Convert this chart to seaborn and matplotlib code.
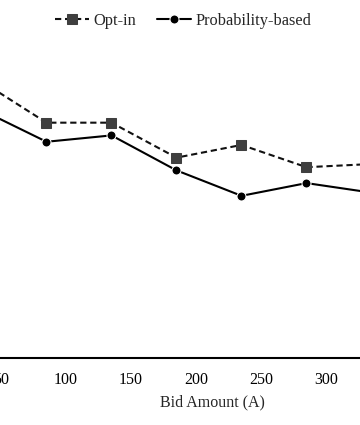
import matplotlib
matplotlib.use("Agg")
import matplotlib.pyplot as plt
import seaborn as sns
import pandas as pd

bid_amounts = [35, 85, 135, 185, 235, 285, 335]
opt_in = [0.87, 0.74, 0.74, 0.63, 0.67, 0.60, 0.61]
probability_based = [0.78, 0.68, 0.70, 0.59, 0.51, 0.55, 0.52]
series_names = ["Opt-in", "Probability-based"]
x_ticks = [50, 100, 150, 200, 250, 300]

df = pd.DataFrame({
	"bid": bid_amounts * 2,
	"value": opt_in + probability_based,
	"sample": [series_names[0]] * len(bid_amounts) + [series_names[1]] * len(bid_amounts),
})

sns.set_style("white")
plt.rcParams["font.family"] = ["Liberation Serif", "DejaVu Serif"]

fig = plt.figure(figsize=(3.6, 4.25), dpi=100)
# axes deliberately wider than the figure: the reference is a crop of a larger chart
ax = fig.add_axes([-64 / 360, 67 / 425, 552.5 / 360, 318 / 425])

sns.lineplot(data=df, x="bid", y="value", hue="sample", style="sample",
			 palette={"Opt-in": "#111111", "Probability-based": "black"},
			 markers={"Opt-in": "s", "Probability-based": "o"},
			 dashes={"Opt-in": (3, 1.8), "Probability-based": ""},
			 markersize=6.5, linewidth=1.5, ax=ax)

# darker gray squares
for line in ax.lines:
	if line.get_marker() == "s":
		line.set_markerfacecolor("#3f3f3f")
		line.set_markeredgecolor("#3f3f3f")

ax.set_xlim(0, 425)
ax.set_ylim(0, 1)
ax.set_xticks(x_ticks)
ax.set_yticks([])
ax.tick_params(axis="x", length=0, labelsize=11.5, pad=10, colors="black")
ax.set_xlabel("Bid Amount (A)", fontsize=11.5, labelpad=5)
ax.set_ylabel("")
for side in ["top", "right", "left"]:
	ax.spines[side].set_visible(False)
ax.spines["bottom"].set_color("black")
ax.spines["bottom"].set_linewidth(1.5)

handles, labels = ax.get_legend_handles_labels()
ax.legend(handles, labels, loc="upper center", frameon=False, ncol=2, fontsize=11.8,
		  bbox_to_anchor=(183 / 360, 1.004), bbox_transform=fig.transFigure,
		  handlelength=2.1, columnspacing=1.25, handletextpad=0.25)

fig.savefig("out.png", dpi=100)
